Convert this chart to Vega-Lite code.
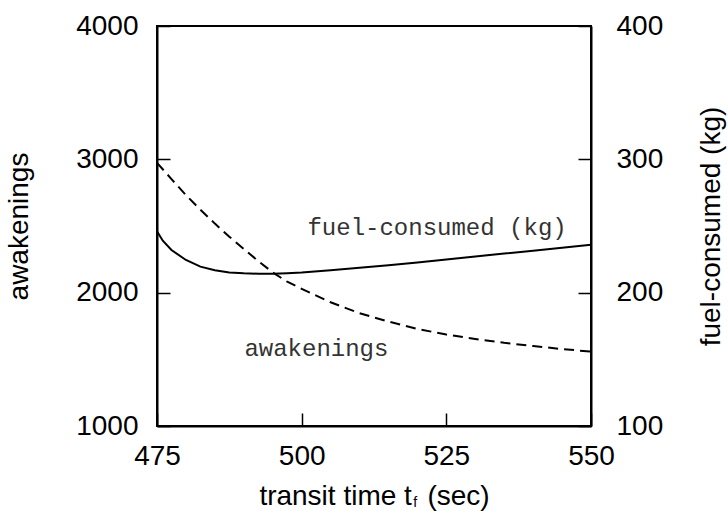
{
  "$schema": "https://vega.github.io/schema/vega-lite/v6.json",
  "width": 434,
  "height": 400,
  "autosize": {"type": "none"},
  "padding": {"left": 157, "top": 26, "right": 137, "bottom": 85},
  "background": "white",
  "datasets": {
    "awak": [
      {"t": 475, "awakenings": 2974},
      {"t": 477.5, "awakenings": 2852},
      {"t": 480, "awakenings": 2732},
      {"t": 482.5, "awakenings": 2622},
      {"t": 485, "awakenings": 2518},
      {"t": 487.5, "awakenings": 2420},
      {"t": 490, "awakenings": 2328},
      {"t": 492.5, "awakenings": 2237},
      {"t": 495, "awakenings": 2152},
      {"t": 497.5, "awakenings": 2082},
      {"t": 500, "awakenings": 2029},
      {"t": 505, "awakenings": 1928},
      {"t": 510, "awakenings": 1846},
      {"t": 515, "awakenings": 1783},
      {"t": 520, "awakenings": 1728},
      {"t": 525, "awakenings": 1686},
      {"t": 530, "awakenings": 1653},
      {"t": 535, "awakenings": 1624},
      {"t": 540, "awakenings": 1600},
      {"t": 545, "awakenings": 1577},
      {"t": 550, "awakenings": 1558}
    ],
    "fuel": [
      {"t": 475, "fuel": 246},
      {"t": 476, "fuel": 239},
      {"t": 477.5, "fuel": 232},
      {"t": 480, "fuel": 224.5},
      {"t": 482.5, "fuel": 219.5},
      {"t": 485, "fuel": 216.8},
      {"t": 487.5, "fuel": 215.2},
      {"t": 490, "fuel": 214.5},
      {"t": 492.5, "fuel": 214.2},
      {"t": 495, "fuel": 214.2},
      {"t": 497.5, "fuel": 214.6},
      {"t": 500, "fuel": 215.2},
      {"t": 505, "fuel": 216.9},
      {"t": 510, "fuel": 218.7},
      {"t": 515, "fuel": 220.5},
      {"t": 520, "fuel": 222.6},
      {"t": 525, "fuel": 224.9},
      {"t": 530, "fuel": 227.1},
      {"t": 535, "fuel": 229.3},
      {"t": 540, "fuel": 231.5},
      {"t": 545, "fuel": 233.7},
      {"t": 550, "fuel": 236.0}
    ],
    "awakLabel": [{"t": 490.1, "awakenings": 1528, "label": "awakenings"}],
    "fuelLabel": [{"t": 545.8, "fuel": 243.4, "label": "fuel-consumed (kg)"}],
    "sub": [{"t": 519.6, "awakenings": 395, "label": "f"}]
  },
  "config": {
    "view": {"stroke": "black", "strokeWidth": 2},
    "axis": {
      "grid": false,
      "domainColor": "black",
      "domainWidth": 2,
      "tickColor": "black",
      "tickWidth": 1.5,
      "tickSize": -13,
      "labelFont": "Liberation Sans",
      "labelFontSize": 28,
      "labelColor": "black",
      "labelFlush": false,
      "labelOverlap": false,
      "labelBound": false,
      "format": "d",
      "titleFont": "Liberation Sans",
      "titleFontSize": 28,
      "titleFontWeight": "normal",
      "titleColor": "black"
    }
  },
  "layer": [
    {
      "layer": [
        {
          "data": {"name": "awak"},
          "mark": {"type": "line", "color": "black", "strokeWidth": 2, "strokeDash": [10, 6]},
          "encoding": {
            "x": {
              "field": "t", "type": "quantitative",
              "scale": {"domain": [475, 550], "nice": false, "zero": false},
              "axis": {"values": [475, 500, 525, 550], "format": "d", "title": "transit time t\u00a0\u00a0(sec)", "labelPadding": 29, "titlePadding": 12}
            },
            "y": {
              "field": "awakenings", "type": "quantitative",
              "scale": {"domain": [1000, 4000], "nice": false, "zero": false},
              "axis": {"orient": "left", "values": [1000, 2000, 3000, 4000], "format": "d", "title": "awakenings", "labelPadding": 32, "titlePadding": 42}
            }
          }
        },
        {
          "data": {"name": "awakLabel"},
          "mark": {"type": "text", "font": "Liberation Mono", "fontSize": 24, "align": "left", "baseline": "alphabetic", "color": "#333333"},
          "encoding": {
            "x": {"field": "t", "type": "quantitative"},
            "y": {"field": "awakenings", "type": "quantitative"},
            "text": {"field": "label"}
          }
        },
        {
          "data": {"name": "sub"},
          "mark": {"type": "text", "font": "Liberation Sans", "fontSize": 14, "align": "center", "baseline": "alphabetic", "color": "black", "clip": false},
          "encoding": {
            "x": {"field": "t", "type": "quantitative"},
            "y": {"field": "awakenings", "type": "quantitative"},
            "text": {"field": "label"}
          }
        }
      ]
    },
    {
      "layer": [
        {
          "data": {"name": "fuel"},
          "mark": {"type": "line", "color": "black", "strokeWidth": 2},
          "encoding": {
            "x": {"field": "t", "type": "quantitative"},
            "y": {
              "field": "fuel", "type": "quantitative",
              "scale": {"domain": [100, 400], "nice": false, "zero": false},
              "axis": {"orient": "right", "values": [100, 200, 300, 400], "format": "d", "title": "fuel-consumed (kg)", "titleAngle": 270, "titleBaseline": "top", "labelPadding": 38, "titlePadding": 35}
            }
          }
        },
        {
          "data": {"name": "fuelLabel"},
          "mark": {"type": "text", "font": "Liberation Mono", "fontSize": 24, "align": "right", "baseline": "alphabetic", "color": "#333333"},
          "encoding": {
            "x": {"field": "t", "type": "quantitative"},
            "y": {"field": "fuel", "type": "quantitative"},
            "text": {"field": "label"}
          }
        }
      ]
    }
  ],
  "resolve": {"scale": {"y": "independent"}}
}
